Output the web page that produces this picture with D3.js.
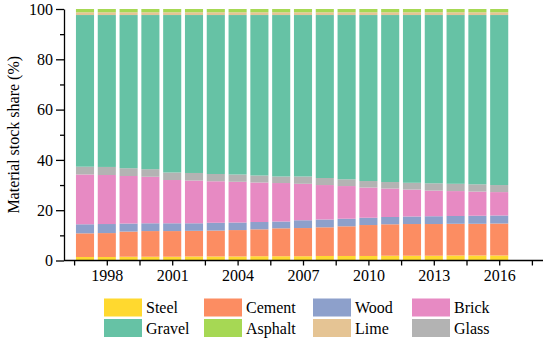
<!DOCTYPE html>
<html>
<head>
<meta charset="utf-8">
<script src="https://cdn.jsdelivr.net/npm/d3@7"></script>
<style>
  html, body { margin: 0; padding: 0; background: #fff; }
  svg { display: block; }
  text { font-family: "Liberation Serif", "Times New Roman", serif; fill: #000; }
</style>
</head>
<body>
<svg id="chart" width="550" height="343"></svg>
<script>
// ---- data ----
const years = [1997,1998,1999,2000,2001,2002,2003,2004,2005,2006,2007,2008,2009,2010,2011,2012,2013,2014,2015,2016];
const steel   = [1.4,1.4,1.5,1.5,1.5,1.6,1.6,1.6,1.7,1.7,1.7,1.8,1.8,1.8,1.9,1.9,1.9,2.0,2.0,2.0];
const cement  = [9.4,9.5,10.0,10.2,10.2,10.2,10.3,10.5,10.7,11.1,11.2,11.4,11.8,12.3,12.5,12.6,12.6,12.6,12.6,12.7];
const wood    = [3.6,3.6,3.2,3.1,3.1,3.0,3.1,3.0,2.9,2.7,3.1,3.1,3.0,2.9,2.9,3.0,3.1,3.1,3.2,3.2];
const brick   = [19.8,19.5,18.9,18.5,17.2,17.0,16.5,16.2,15.7,15.3,14.5,13.7,13.0,12.0,11.3,10.7,10.2,9.9,9.6,9.3];
const glass   = [3.1,3.2,3.1,3.0,3.0,3.0,2.9,2.9,2.8,2.6,2.9,2.8,2.7,2.6,2.6,2.7,2.9,2.9,2.9,2.8];
const gravel  = [60.3,60.4,60.9,61.3,62.6,62.8,63.2,63.4,63.8,64.2,64.2,64.8,65.3,66.0,66.4,66.7,66.9,67.1,67.3,67.6];
const lime    = [1.1,1.1,1.1,1.1,1.1,1.1,1.1,1.1,1.1,1.1,1.1,1.1,1.1,1.1,1.1,1.1,1.1,1.1,1.1,1.1];
const asphalt = [1.3,1.3,1.3,1.3,1.3,1.3,1.3,1.3,1.3,1.3,1.3,1.3,1.3,1.3,1.3,1.3,1.3,1.3,1.3,1.3];

const legendNames = ["Steel","Cement","Wood","Brick","Gravel","Asphalt","Lime","Glass"];
const stackOrder  = ["Steel","Cement","Wood","Brick","Glass","Gravel","Lime","Asphalt"];
const colors = {Steel:"#ffd92f", Cement:"#fc8d62", Wood:"#8da0cb", Brick:"#e78ac3",
                Gravel:"#66c2a5", Asphalt:"#a6d854", Lime:"#e5c494", Glass:"#b3b3b3"};
const seriesMap = {Steel:steel, Cement:cement, Wood:wood, Brick:brick, Glass:glass, Gravel:gravel, Lime:lime, Asphalt:asphalt};

const xTickValues = [1996.5,1998,1999.5,2001,2002.5,2004,2005.5,2007,2008.5,2010,2011.5,2013,2014.5,2016,2017.5];
const xTickLabels = [1998,2001,2004,2007,2010,2013,2016];
const yMajorTicks = [0,20,40,60,80,100];
const yMinorTicks = [10,30,50,70,90];

// ---- build table ----
const table = years.map((y,i) => {
  const row = {year: y};
  stackOrder.forEach(k => row[k] = seriesMap[k][i]);
  return row;
});

const svg = d3.select("#chart");
const axisX = 64, axisRight = 543;
const y = d3.scaleLinear().domain([0,100]).range([260.5, 9]);
const xBand = d3.scaleBand().domain(years).range([74.1, 510.1]).paddingInner(0.17).paddingOuter(0.085);
const xLin = d3.scaleLinear().domain([1997, 2016])
  .range([xBand(1997) + xBand.bandwidth()/2, xBand(2016) + xBand.bandwidth()/2]);

const stacked = d3.stack().keys(stackOrder)(table);

svg.append("g").selectAll("g").data(stacked).join("g")
  .attr("fill", d => colors[d.key])
  .selectAll("rect").data(d => d).join("rect")
  .attr("x", d => xBand(d.data.year))
  .attr("width", xBand.bandwidth())
  .attr("y", d => y(d[1]))
  .attr("height", d => y(d[0]) - y(d[1]));

// x axis
const xAxis = d3.axisBottom(xLin).tickValues(xTickValues)
  .tickFormat(d => xTickLabels.includes(d) ? String(d) : "")
  .tickSize(5).tickSizeOuter(0).tickPadding(4);
const gx = svg.append("g").attr("transform", `translate(0,${y(0)})`).call(xAxis);
gx.select(".domain").remove();
gx.append("line").attr("x1", axisX).attr("x2", axisRight).attr("y1", 0).attr("y2", 0)
  .attr("stroke", "#000").attr("stroke-width", 1.3);
gx.selectAll(".tick line").attr("stroke-width", 1.3);
gx.selectAll(".tick text").attr("font-size", 16).attr("font-family", "Liberation Serif");

// y axis
const yAxis = d3.axisLeft(y).tickValues(yMajorTicks).tickSize(8).tickSizeOuter(0).tickPadding(3);
const gy = svg.append("g").attr("transform", `translate(${axisX},0)`).call(yAxis);
gy.select(".domain").attr("stroke-width", 1.3);
gy.selectAll(".tick line").attr("stroke-width", 1.3);
gy.selectAll(".tick text").attr("font-size", 16).attr("font-family", "Liberation Serif");
const yMinor = d3.axisLeft(y).tickValues(yMinorTicks).tickSize(4).tickFormat("");
const gy2 = svg.append("g").attr("transform", `translate(${axisX},0)`).call(yMinor);
gy2.select(".domain").remove();
gy2.selectAll(".tick line").attr("stroke-width", 1.3);

svg.append("text")
  .attr("transform", `translate(19,${(y(0)+y(100))/2}) rotate(-90)`)
  .attr("text-anchor", "middle")
  .attr("font-size", 16)
  .text("Material stock share (%)");

// legend
const colX = [104, 204, 313, 412];
const txtX = [146, 246, 355, 454];
const rowY = [298.5, 319];
const lg = svg.append("g");
legendNames.forEach((name, i) => {
  const r = Math.floor(i / 4), c = i % 4;
  lg.append("rect").attr("x", colX[c]).attr("y", rowY[r]).attr("width", 38).attr("height", 18)
    .attr("fill", colors[name]);
  lg.append("text").attr("x", txtX[c]).attr("y", rowY[r] + 14.5).attr("font-size", 16).text(name);
});
</script>
</body>
</html>
